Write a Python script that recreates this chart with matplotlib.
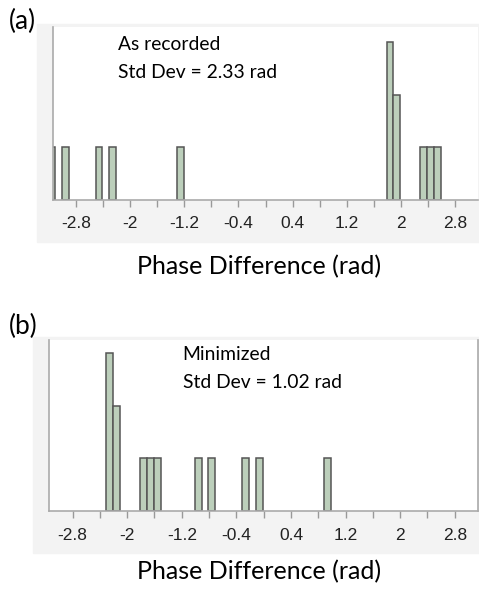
"""
Two histograms of phase differences: as recorded vs. minimized.
"""

#%% Import needed modules
import numpy as np
import matplotlib.pyplot as plt
from matplotlib.patches import Rectangle

#%% Data (bin left edges in rad, counts per bin)
bin_width = 0.1
edges_a = [-3.21, -3.01, -2.51, -2.31, -1.31, 1.79, 1.89, 2.29, 2.39, 2.49]
counts_a = [1, 1, 1, 1, 1, 3, 2, 1, 1, 1]
edges_b = [-2.31, -2.21, -1.81, -1.71, -1.61, -1.01, -0.81, -0.31, -0.11, 0.89]
counts_b = [3, 2, 1, 1, 1, 1, 1, 1, 1, 1]

tick_pos = np.round(np.arange(-2.8, 2.81, 0.4), 1)
tick_lab = ['-2.8', '', '-2', '', '-1.2', '', '-0.4', '', '0.4', '', '1.2', '', '2', '', '2.8']

W, H = 479, 594
fig = plt.figure(figsize=(W/100, H/100), dpi=100)

# light grey frame behind each plot, like the screenshot
fig.patches.append(Rectangle((37/W, 1-242/H), (W-37)/W, (242-24)/H,
                             transform=fig.transFigure, color='#f3f3f3', zorder=-10))
fig.patches.append(Rectangle((33/W, 1-553/H), (W-33)/W, (553-337)/H,
                             transform=fig.transFigure, color='#f3f3f3', zorder=-10))

def draw_panel(rect, edges, counts, ytop, right_spine):
    ax = fig.add_axes(rect)
    ax.set_facecolor('white')
    ax.bar(edges, counts, width=bin_width, align='edge',
           color='#bccfbb', edgecolor='#555555', linewidth=1.1)
    ax.set_xlim(-np.pi, np.pi)
    ax.set_ylim(0, ytop)
    ax.set_yticks([])
    ax.set_xticks(tick_pos)
    ax.set_xticklabels(tick_lab, family='Liberation Sans', fontsize=12.5, color='#222222')
    ax.tick_params(axis='x', direction='out', length=5, width=1, color='#999999', pad=7)
    ax.spines['top'].set_visible(False)
    ax.spines['right'].set_visible(right_spine)
    for s in ['left', 'bottom', 'right']:
        ax.spines[s].set_color('#aaaaaa')
        ax.spines[s].set_linewidth(1.2)
    return ax

ax1 = draw_panel([53/W, 1-199.5/H, 425/W, 172.5/H], edges_a, counts_a, 3.29, False)
ax2 = draw_panel([49.3/W, 1-511/H, 428.7/W, 171/H], edges_b, counts_b, 3.25, True)

#%% Text labels
font = 'Lato'
fig.text(9/W, 1-21/H, '(a)', fontsize=19, family=font, va='center', ha='left')
fig.text(9/W, 1-326/H, '(b)', fontsize=19, family=font, va='center', ha='left')
fig.text(118/W, 1-45/H, 'As recorded', fontsize=13.9, family=font, va='center')
fig.text(118/W, 1-72.7/H, 'Std Dev = 2.33 rad', fontsize=13.9, family=font, va='center')
fig.text(182.7/W, 1-355/H, 'Minimized', fontsize=13.9, family=font, va='center')
fig.text(182.7/W, 1-382.7/H, 'Std Dev = 1.02 rad', fontsize=13.9, family=font, va='center')
fig.text(259/W, 1-266.7/H, 'Phase Difference (rad)', fontsize=18, family=font, ha='center', va='center')
fig.text(259/W, 1-571.7/H, 'Phase Difference (rad)', fontsize=18, family=font, ha='center', va='center')

plt.savefig('out.png', dpi=100)
